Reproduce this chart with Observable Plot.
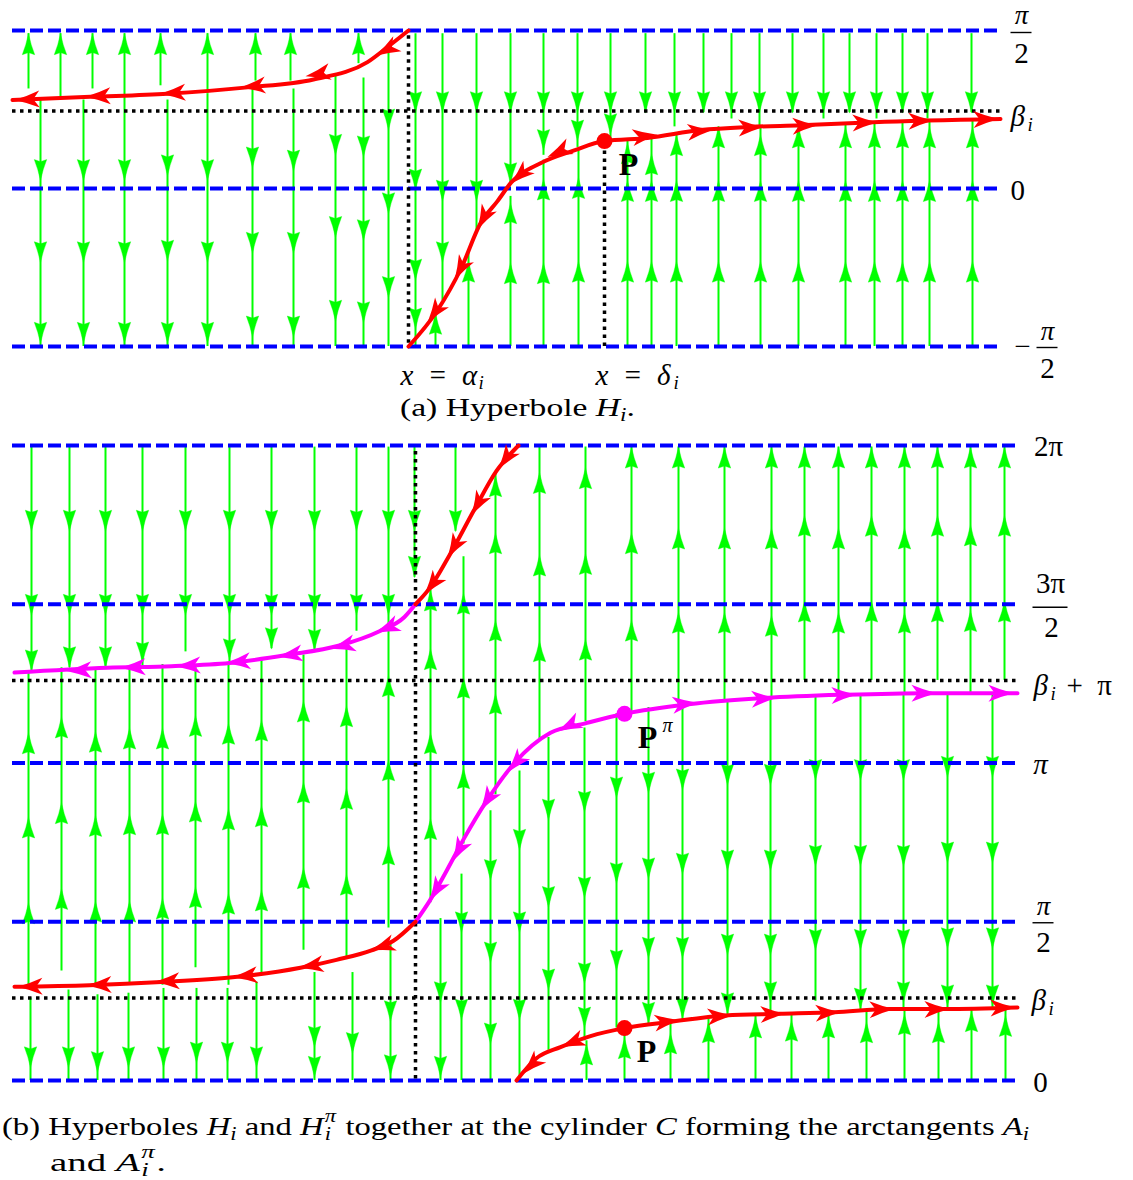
<!DOCTYPE html>
<html><head><meta charset="utf-8">
<script src="https://cdn.jsdelivr.net/npm/d3@7"></script>
<script src="https://cdn.jsdelivr.net/npm/@observablehq/plot@0.6"></script>
<style>
html,body{margin:0;padding:0;background:#fff;}
#wrap{position:relative;width:1133px;height:1180px;overflow:hidden;font-family:"Liberation Serif","DejaVu Serif",serif;color:#000;}
.panel{position:absolute;left:0;}
.cap{position:absolute;font-size:26px;line-height:30px;white-space:nowrap;}
.cap sub{font-size:18px;vertical-align:-5px;line-height:0;}
.ss{display:inline-block;position:relative;width:11px;height:26px;vertical-align:baseline;}
.ss .p{position:absolute;left:1px;top:-2px;font-size:18px;line-height:18px;font-style:italic;}
.ss .q{position:absolute;left:1px;top:16px;font-size:18px;line-height:18px;font-style:italic;}
</style></head>
<body><div id="wrap">
<div id="pa" class="panel" style="top:0"></div>
<div class="cap" id="capA" style="left:400px;top:393px">(a) Hyperbole <i>H</i><sub><i>i</i></sub>.</div>
<div id="pb" class="panel" style="top:425px"></div>
<div class="cap" id="capB1" style="left:2px;top:1109px">(b) Hyperboles <i>H</i><sub><i>i</i></sub> and <i>H</i><span class="ss"><span class="p">π</span><span class="q">i</span></span> together at the cylinder <i>C</i> forming the arctangents <i>A</i><sub><i>i</i></sub></div>
<div class="cap" id="capB2" style="left:50px;top:1145px">and <i>A</i><span class="ss"><span class="p">π</span><span class="q">i</span></span>.</div>
</div>
<script>
// ===================== DATA (y in units of π/2) =====================
// ---- panel (a) ----
const aLevels = [-1, 0, 1];
const aBeta = 0.49;
const aAlpha = 0;
const aDelta = 1.96;
const aP = [1.96, 0.30];
const aRedLeft = [[-3.96,0.56],[-3.18,0.58],[-2.41,0.60],[-1.61,0.64],[-0.95,0.69],[-0.41,0.80],[-0.18,0.91],[0,1.0]];
const aRedRight = [[0,-1.0],[0.28,-0.78],[0.53,-0.50],[0.72,-0.22],[0.89,-0.08],[1.03,0.04],[1.32,0.16],[1.65,0.24],[1.96,0.30],[2.39,0.32],[2.92,0.37],[3.42,0.39],[3.92,0.40],[4.65,0.42],[5.92,0.44]];
const aRedLeftHeads = [[-0.33,0.84,-1],[-1.03,0.71,-1],[-1.68,0.64,-1],[-2.48,0.60,-1],[-3.23,0.58,-1],[-3.94,0.56,-1]];
const aRedRightHeads = [[1.39,0.20,-1],[1.02,0.03,-1],[0.69,-0.26,-1],[0.46,-0.58,-1],[0.19,-0.85,-1],
  [2.49,0.34,1],[3.04,0.37,1],[3.55,0.39,1],[4.09,0.40,1],[4.69,0.42,1],[5.25,0.43,1],[5.90,0.44,1]];
// green streams: [x, yFrom, yTo, arrowhead tips]
const aGreen = [
  [-3.80,0.63,0.98,[0.98]],[-3.48,0.58,0.98,[0.98]],[-3.16,0.63,0.98,[0.98]],[-2.84,0.58,0.98,[0.98]],
  [-2.48,0.65,0.98,[0.98]],[-2.01,0.60,0.98,[0.98]],[-1.53,0.68,0.98,[0.98]],[-1.18,0.68,0.98,[0.98]],[-0.50,0.79,0.98,[0.98]],
  [-3.68,0.56,-1,[0.05,-0.47,-0.98]],[-3.25,0.56,-1,[0.05,-0.47,-0.98]],[-2.84,0.58,-1,[0.05,-0.47,-0.98]],
  [-2.41,0.56,-1,[0.08,-0.46,-0.98]],[-2.01,0.60,-1,[0.05,-0.47,-0.98]],[-1.56,0.63,-1,[0.13,-0.41,-0.94]],
  [-1.15,0.63,-1,[0.11,-0.41,-0.94]],[-0.73,0.72,-1,[0.21,-0.31,-0.84]],[-0.45,0.70,-1,[0.20,-0.33,-0.85]],
  [-0.20,0.87,-1,[0.37,-0.16,-0.69]],
  [0.07,0.98,-1,[0.48,-0.01,-0.58,-0.89]],[0.34,0.98,-0.71,[0.48,-0.08,-0.47]],[0.68,0.98,-0.27,[0.48,-0.08]],
  [1.02,0.98,0.03,[0.48,0.03]],[1.35,0.98,0.21,[0.48,0.24]],[1.69,0.98,0.26,[0.48,0.30]],[2.02,0.98,0.30,[0.48,0.34]],
  [2.37,0.98,0.48,[0.48]],[2.66,0.98,0.39,[0.48]],[2.95,0.98,0.48,[0.48]],[3.23,0.98,0.44,[0.48]],[3.51,0.98,0.39,[0.48]],
  [3.84,0.98,0.48,[0.48]],[4.15,0.98,0.44,[0.48]],[4.41,0.98,0.48,[0.48]],[4.68,0.98,0.44,[0.48]],[4.94,0.98,0.48,[0.48]],
  [5.19,0.98,0.44,[0.48]],[5.63,0.98,0.48,[0.48]],
  [0.27,-1,-0.79,[-0.79]],[0.60,-1,-0.39,[-0.46]],[1.02,-1,-0.05,[-0.47,-0.09]],[1.35,-1,0.18,[-0.47,0.06]],
  [1.70,-1,0.24,[-0.46,0.07]],[2.19,-1,0.30,[-0.46,0.05,0.29]],[2.43,-1,0.32,[-0.46,0.05,0.22]],
  [2.68,-1,0.34,[-0.46,0.05,0.34]],[3.10,-1,0.39,[-0.46,0.05,0.39]],[3.52,-1,0.39,[-0.46,0.05,0.34]],
  [3.90,-1,0.40,[-0.46,0.05,0.39]],[4.37,-1,0.41,[-0.46,0.05,0.39]],[4.66,-1,0.42,[-0.46,0.05,0.39]],
  [4.94,-1,0.42,[-0.46,0.05,0.39]],[5.21,-1,0.42,[-0.46,0.05,0.39]],[5.64,-1,0.43,[-0.46,0.05,0.39]]
];
const aRightLabels = [
  {v: 1, num: "π", den: "2"},
  {v: 0.49, main: "β", sub: "i"},
  {v: 0, main: "0"},
  {v: -1, sign: "−", num: "π", den: "2"}
];
const aBottomLabels = [{main: "x\u2002=\u2002α", sub: "i"}, {main: "x\u2002=\u2002δ", sub: "i"}];
const aPointLabel = "P";

// ---- panel (b) ----
const bLevels = [0, 1, 2, 3, 4];
const bBeta = 0.52;
const bBetaPi = 2.52;
const bAlpha = 0;
const bP = [2.09, 0.33];
const bPpi = [2.09, 2.31];
const bRedTop = [[0,3.0],[0.14,3.10],[0.35,3.32],[0.60,3.61],[0.81,3.84],[1.03,4.0]];
const bRedTopHeads = [[0.83,3.85,-1],[0.56,3.56,-1],[0.32,3.29,-1],[0.09,3.06,-1]];
const bMagLeft = [[-4.01,2.57],[-3.08,2.60],[-2.44,2.61],[-1.86,2.63],[-1.29,2.68],[-0.76,2.74],[-0.36,2.83],[-0.11,2.92],[0,3.0]];
const bMagLeftHeads = [[-0.40,2.82,-1],[-0.85,2.72,-1],[-1.38,2.67,-1],[-1.90,2.63,-1],[-2.40,2.61,-1],[-2.95,2.60,-1],[-3.49,2.58,-1]];
const bMagMid = [[0,1.0],[0.14,1.13],[0.31,1.32],[0.49,1.53],[0.71,1.76],[0.99,2.00],[1.35,2.19],[1.70,2.25],[2.09,2.31],[2.73,2.37],[3.50,2.41],[4.30,2.43],[5.10,2.44],[6.02,2.44]];
const bMagMidHeads = [[1.42,2.20,-1],[0.92,1.94,-1],[0.65,1.70,-1],[0.37,1.38,-1],[0.14,1.13,-1],
  [2.82,2.38,1],[3.61,2.41,1],[4.41,2.43,1],[5.21,2.44,1],[5.98,2.44,1]];
const bRedLL = [[-4.01,0.59],[-3.26,0.60],[-2.54,0.62],[-1.83,0.65],[-1.15,0.71],[-0.79,0.76],[-0.44,0.82],[-0.22,0.88],[0,1.0]];
const bRedLLHeads = [[-0.45,0.82,-1],[-1.17,0.71,-1],[-1.83,0.65,-1],[-2.61,0.62,-1],[-3.29,0.60,-1],[-3.98,0.59,-1]];
const bRedLR = [[1.01,0],[1.21,0.14],[1.45,0.21],[1.75,0.28],[2.09,0.33],[2.55,0.37],[3.10,0.41],[3.64,0.42],[4.19,0.43],[4.74,0.45],[5.29,0.45],[6.02,0.46]];
const bRedLRHeads = [[1.07,0.04,-1],[1.45,0.21,-1],
  [2.64,0.38,1],[3.17,0.41,1],[3.70,0.42,1],[4.25,0.43,1],[4.79,0.45,1],[5.34,0.45,1],[6.00,0.46,1]];
const bGreen = [
  [-3.84,3.99,2.58,[3.46,2.93,2.58]],[-3.46,3.99,2.60,[3.46,2.93,2.60]],[-3.10,3.99,2.60,[3.46,2.93,2.60]],
  [-2.73,3.99,2.61,[3.46,2.93,2.63]],[-2.30,3.99,2.70,[3.46,2.93]],[-1.86,3.99,2.63,[3.46,2.93,2.65]],
  [-1.44,3.99,2.72,[3.46,2.93,2.72]],[-1.01,3.99,2.71,[3.46,2.93,2.71]],[-0.59,3.99,2.83,[3.46,2.93]],
  [-0.27,3.99,2.86,[3.46,2.93]],[-0.01,3.99,3.17,[3.46,3.17]],[0.40,3.99,3.46,[3.46]],
  [0.15,1.12,3.09,[1.65,2.19,2.72,3.09]],[0.48,1.49,3.30,[1.97,2.54,3.07]],[0.80,1.80,3.83,[2.44,2.90,3.45,3.81]],
  [1.24,2.15,3.99,[2.77,3.31,3.83]],[1.70,2.26,3.99,[2.78,3.32,3.86]],[2.16,2.31,3.99,[2.90,3.45,3.99]],
  [2.63,2.36,3.99,[2.95,3.48,3.99]],[3.09,2.40,3.99,[2.95,3.48,3.99]],[3.56,2.41,3.99,[2.93,3.48,3.99]],
  [3.89,2.52,3.99,[3.02,3.56,3.99]],[4.23,2.43,3.99,[2.95,3.48,3.99]],[4.56,2.52,3.99,[3.02,3.56,3.99]],
  [4.89,2.44,3.99,[2.95,3.48,3.99]],[5.22,2.52,3.99,[3.02,3.56,3.99]],[5.55,2.44,3.99,[2.96,3.50,3.99]],
  [5.89,2.52,3.99,[3.02,3.56,3.99]],
  [-3.87,0.60,2.58,[1.12,1.66,2.19]],[-3.54,0.69,2.60,[1.21,1.75,2.29]],[-3.20,0.60,2.60,[1.13,1.67,2.20]],
  [-2.86,0.60,2.61,[1.13,1.68,2.22]],[-2.53,0.60,2.62,[1.15,1.68,2.22]],[-2.20,0.71,2.62,[1.22,1.76,2.30]],
  [-1.87,0.60,2.63,[1.18,1.71,2.25]],[-1.54,0.68,2.65,[1.20,1.73,2.27]],[-1.12,0.82,2.68,[1.34,1.88,2.39]],
  [-0.69,0.77,2.74,[1.30,1.84,2.36]],[-0.27,0.96,2.86,[1.49,2.02,2.55]],
  [-3.85,0.52,0,[0.08]],[-3.47,0.57,0,[0.08]],[-3.18,0.54,0,[0.05]],[-2.87,0.55,0,[0.08]],[-2.52,0.58,0,[0.08]],
  [-2.19,0.58,0,[0.11]],[-1.88,0.58,0,[0.11]],[-1.59,0.62,0,[0.08]],[-1.01,0.68,0,[0.21,0.02]],
  [-0.63,0.68,0,[0.17]],[-0.25,0.86,0,[0.37,0.03]],
  [0.25,1.02,0,[0.49,0.02]],[0.46,1.30,0,[0.93,0.38]],[0.75,1.70,0,[1.26,0.74,0.23]],
  [1.04,1.95,0.02,[1.45,0.93,0.38]],[1.33,2.16,0.19,[1.64,1.09,0.57]],
  [1.69,2.22,0.25,[1.69,1.15,0.61,0.33]],[2.01,2.31,0.33,[1.78,1.24,0.69]],[2.33,2.35,0.35,[1.81,1.27,0.77,0.36]],
  [2.67,2.37,0.38,[1.83,1.30,0.77,0.39]],[3.12,2.39,0.41,[1.86,1.32,0.79,0.42]],[3.55,2.41,0.42,[1.86,1.32,0.79,0.49]],
  [4.00,2.42,0.50,[1.89,1.35,0.82]],[4.45,2.43,0.43,[1.89,1.35,0.82,0.45]],[4.88,2.44,0.44,[1.89,1.35,0.82,0.49]],
  [5.32,2.44,0.45,[1.91,1.37,0.83,0.47]],[5.77,2.44,0.45,[1.91,1.37,0.83,0.47]],
  [1.71,0,0.25,[0.23]],[2.09,0,0.33,[0.27]],[2.55,0,0.37,[0.30]],[2.93,0,0.39,[0.37]],[3.40,0,0.41,[0.40]],
  [3.76,0,0.42,[0.38]],[4.13,0,0.43,[0.40]],[4.51,0,0.44,[0.37]],[4.89,0,0.45,[0.42]],[5.23,0,0.45,[0.37]],
  [5.56,0,0.46,[0.44]],[5.90,0,0.46,[0.41]]
];
const bRightLabels = [
  {v: 4, main: "2π"},
  {v: 3, num: "3π", den: "2"},
  {v: 2.52, main: "β", sub: "i", tail: "+\u2002π"},
  {v: 2, main: "π"},
  {v: 1, num: "π", den: "2"},
  {v: 0.52, main: "β", sub: "i"},
  {v: 0, main: "0"}
];
const bPointLabels = [{main: "P", sup: "π"}, {main: "P"}];

// ===================== DRAWING =====================
const GREEN = "#00ff00", RED = "#ff0000", MAG = "#ff00ff", BLUE = "#0000ff";
const SERIF = "Liberation Serif, DejaVu Serif, serif";
const FS = 29;

const headShape = (notch, bow) => ({
  draw(c, l, r) {
    c.moveTo(0, -l);
    c.quadraticCurveTo(r * bow, -l * 0.45, r, 0);
    c.lineTo(0, -l * notch);
    c.lineTo(-r, 0);
    c.quadraticCurveTo(-r * bow, -l * 0.45, 0, -l);
    c.closePath();
  }
});

function tangentAngle(curve, x0, dir, kx, ky) {
  const n = curve.length;
  let i = 0;
  while (i < n - 2 && curve[i + 1][0] <= x0) i++;
  const t = Math.max(0, Math.min(1, (x0 - curve[i][0]) / (curve[i + 1][0] - curve[i][0])));
  const tan = j => {
    const a = curve[Math.max(0, j - 1)], b = curve[Math.min(n - 1, j + 1)];
    const vx = (b[0] - a[0]) * kx, vy = -(b[1] - a[1]) * ky;
    const m = Math.hypot(vx, vy);
    return [vx / m, vy / m];
  };
  const [ax, ay] = tan(i), [bx, by] = tan(i + 1);
  const vx = ((1 - t) * ax + t * bx) * dir, vy = ((1 - t) * ay + t * by) * dir;
  return Math.atan2(vx, -vy) * 180 / Math.PI;
}
const curveHeads = (curve, heads, kx, ky) => heads.map(([x, y, dir]) => ({x, y, rot: tangentAngle(curve, x, dir, kx, ky)}));
const greenHeads = streams => streams.flatMap(([x, y1, y2, hs]) => hs.map(y => ({x, y, rot: y2 > y1 ? 0 : 180})));

const greenMarks = streams => [
  Plot.ruleX(streams, {x: d => d[0], y1: d => d[1], y2: d => d[2], stroke: GREEN, strokeWidth: 2}),
  Plot.vector(greenHeads(streams), {x: "x", y: "y", rotate: "rot", length: 21, r: 6.2, anchor: "end",
    shape: headShape(0.1, 0.38), fill: GREEN, stroke: GREEN, strokeWidth: 0.4})
];
const curveMark = (pts, color) => Plot.line(pts, {x: d => d[0], y: d => d[1], stroke: color, strokeWidth: 4, curve: "monotone-x"});
const headMark = (hs, color) => Plot.vector(hs, {x: "x", y: "y", rotate: "rot", length: 25, r: 8.5, anchor: "end",
  shape: headShape(0.25, 0.42), fill: color, stroke: "none"});
const dashed = {stroke: BLUE, strokeWidth: 4, strokeDasharray: "13,5"};
const dotted = {stroke: "black", strokeWidth: 3.5, strokeDasharray: "3.5,4.5"};
const T = (s, xv, yv, o = {}) => Plot.text([s], {x: () => xv, y: () => yv, text: d => d, fontFamily: SERIF, fontSize: FS, fill: "black", ...o});
const Bar = (xv, yv, wpx, kx, dy) => Plot.ruleY([yv], {y: d => d, x1: () => xv - wpx / 2 / kx, x2: () => xv + wpx / 2 / kx, dy, stroke: "black", strokeWidth: 1.4});

// ---------- panel (a) ----------
const A = {w: 1133, h: 395, mt: 30, mb: 49, ml: 12, mr: 133, xd: [-3.96, 5.92], yd: [-1, 1]};
const akx = (A.w - A.ml - A.mr) / (A.xd[1] - A.xd[0]);
const aky = (A.h - A.mt - A.mb) / (A.yd[1] - A.yd[0]);
const [aL0, aL1, aL2, aL3] = aRightLabels;
const aRH = [...curveHeads(aRedLeft, aRedLeftHeads, akx, aky), ...curveHeads(aRedRight, aRedRightHeads, akx, aky)];

const plotA = Plot.plot({
  width: A.w, height: A.h, marginTop: A.mt, marginBottom: A.mb, marginLeft: A.ml, marginRight: A.mr,
  x: {domain: A.xd, axis: null}, y: {domain: A.yd, axis: null},
  style: {background: "white", fontFamily: SERIF, overflow: "visible"},
  marks: [
    ...greenMarks(aGreen),
    Plot.ruleY(aLevels, {y: d => d, x1: () => A.xd[0], x2: () => A.xd[1], ...dashed}),
    Plot.ruleY([aBeta], {y: d => d, x1: () => A.xd[0], x2: () => A.xd[1], ...dotted}),
    Plot.ruleX([aAlpha], {x: d => d, y1: () => -0.98, y2: () => 0.98, ...dotted}),
    Plot.ruleX([aDelta], {x: d => d, y1: () => -1, y2: () => aP[1], ...dotted}),
    curveMark(aRedLeft, RED), curveMark(aRedRight, RED),
    headMark(aRH, RED),
    Plot.dot([aP], {x: d => d[0], y: d => d[1], r: 8, fill: RED}),
    // right labels
    T(aL0.num, 6.13, aL0.v, {dy: -15, fontStyle: "italic", fontSize: 27}),
    Bar(6.13, aL0.v, 21, akx, 2),
    T(aL0.den, 6.13, aL0.v, {dy: 23}),
    T(aL1.main, 6.02, aL1.v, {dy: 6, textAnchor: "start", fontStyle: "italic"}),
    T(aL1.sub, 6.19, aL1.v, {dy: 14, textAnchor: "start", fontStyle: "italic", fontSize: 19}),
    T(aL2.main, 6.02, aL2.v, {dy: 2, textAnchor: "start"}),
    T(aL3.sign, 6.14, aL3.v, {dy: 0}),
    T(aL3.num, 6.39, aL3.v, {dy: -15, fontStyle: "italic", fontSize: 27}),
    Bar(6.39, aL3.v, 21, akx, 1),
    T(aL3.den, 6.39, aL3.v, {dy: 22}),
    // bottom labels
    T(aBottomLabels[0].main, -0.08, -1, {dy: 29, textAnchor: "start", fontStyle: "italic"}),
    T(aBottomLabels[0].sub, 0.70, -1, {dy: 36, textAnchor: "start", fontStyle: "italic", fontSize: 19}),
    T(aBottomLabels[1].main, 1.87, -1, {dy: 29, textAnchor: "start", fontStyle: "italic"}),
    T(aBottomLabels[1].sub, 2.65, -1, {dy: 36, textAnchor: "start", fontStyle: "italic", fontSize: 19}),
    T(aPointLabel, 2.20, 0.15, {fontWeight: "bold", fontSize: 32})
  ]
});
document.getElementById("pa").appendChild(plotA);

// ---------- panel (b) ----------
const B = {w: 1133, h: 680, mt: 20, mb: 25, ml: 12, mr: 113, xd: [-4.03, 6.05], yd: [0, 4]};
const bkx = (B.w - B.ml - B.mr) / (B.xd[1] - B.xd[0]);
const bky = (B.h - B.mt - B.mb) / (B.yd[1] - B.yd[0]);
const [b0, b1, b2, b3, b4, b5, b6] = bRightLabels;
const bRH = [...curveHeads(bRedTop, bRedTopHeads, bkx, bky), ...curveHeads(bRedLL, bRedLLHeads, bkx, bky), ...curveHeads(bRedLR, bRedLRHeads, bkx, bky)];
const bMH = [...curveHeads(bMagLeft, bMagLeftHeads, bkx, bky), ...curveHeads(bMagMid, bMagMidHeads, bkx, bky)];

const plotB = Plot.plot({
  width: B.w, height: B.h, marginTop: B.mt, marginBottom: B.mb, marginLeft: B.ml, marginRight: B.mr,
  x: {domain: B.xd, axis: null}, y: {domain: B.yd, axis: null},
  style: {background: "white", fontFamily: SERIF},
  marks: [
    ...greenMarks(bGreen),
    Plot.ruleY(bLevels, {y: d => d, x1: () => B.xd[0], x2: () => B.xd[1], ...dashed}),
    Plot.ruleY([bBeta, bBetaPi], {y: d => d, x1: () => B.xd[0], x2: () => B.xd[1], ...dotted}),
    Plot.ruleX([bAlpha], {x: d => d, y1: () => 0.01, y2: () => 3.99, ...dotted}),
    curveMark(bMagLeft, MAG), curveMark(bMagMid, MAG),
    curveMark(bRedTop, RED), curveMark(bRedLL, RED), curveMark(bRedLR, RED),
    headMark(bMH, MAG), headMark(bRH, RED),
    Plot.dot([bPpi], {x: d => d[0], y: d => d[1], r: 8, fill: MAG}),
    Plot.dot([bP], {x: d => d[0], y: d => d[1], r: 8, fill: RED}),
    // right labels
    T(b0.main, 6.33, b0.v, {dy: 1}),
    T(b1.num, 6.35, b1.v, {dy: -21}),
    Bar(6.35, b1.v, 35, bkx, 3),
    T(b1.den, 6.36, b1.v, {dy: 23}),
    T(b2.main, 6.18, b2.v, {dy: 5, textAnchor: "start", fontStyle: "italic"}),
    T(b2.sub, 6.35, b2.v, {dy: 13, textAnchor: "start", fontStyle: "italic", fontSize: 19}),
    T(b2.tail, 6.51, b2.v, {dy: 5, textAnchor: "start"}),
    T(b3.main, 6.25, b3.v, {dy: 2, fontStyle: "italic"}),
    T(b4.num, 6.28, b4.v, {dy: -15, fontStyle: "italic", fontSize: 27}),
    Bar(6.28, b4.v, 21, bkx, 1),
    T(b4.den, 6.28, b4.v, {dy: 21}),
    T(b5.main, 6.16, b5.v, {dy: 3, textAnchor: "start", fontStyle: "italic"}),
    T(b5.sub, 6.33, b5.v, {dy: 11, textAnchor: "start", fontStyle: "italic", fontSize: 19}),
    T(b6.main, 6.25, b6.v, {dy: 2}),
    // point labels
    T(bPointLabels[0].main, 2.32, 2.16, {fontWeight: "bold", fontSize: 32}),
    T(bPointLabels[0].sup, 2.47, 2.16, {dy: -12, textAnchor: "start", fontStyle: "italic", fontSize: 20}),
    T(bPointLabels[1].main, 2.31, 0.18, {fontWeight: "bold", fontSize: 32})
  ]
});
document.getElementById("pb").appendChild(plotB);

// captions: stretch to reference widths
function fit(id, target) {
  const el = document.getElementById(id);
  const w = el.getBoundingClientRect().width;
  el.style.transformOrigin = "0 50%";
  el.style.transform = `scaleX(${target / w})`;
}
fit("capA", 235); fit("capB1", 1027); fit("capB2", 116);
</script></body></html>
